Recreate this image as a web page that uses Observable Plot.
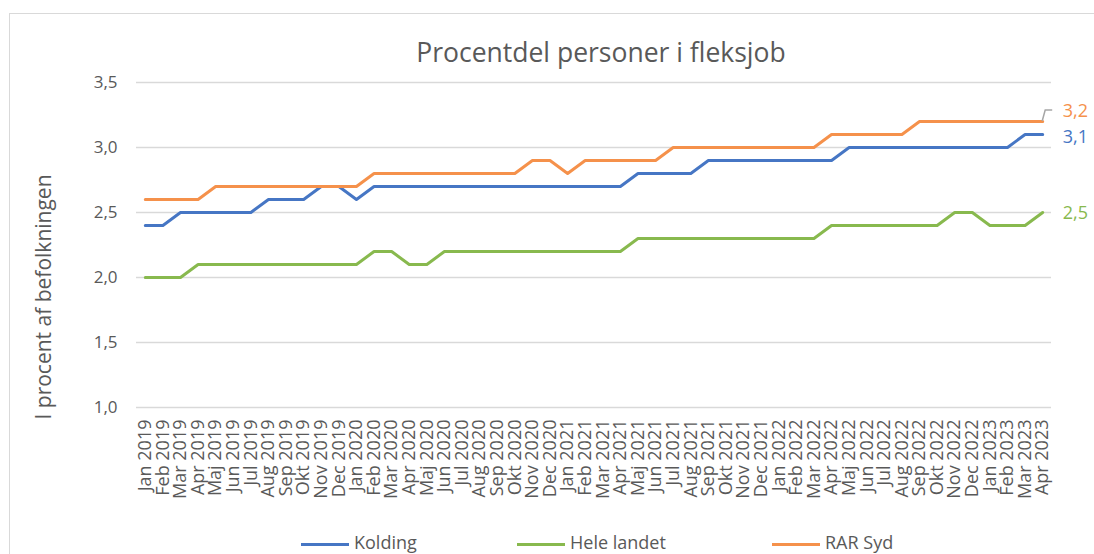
<!DOCTYPE html>
<html>
<head>
<meta charset="utf-8">
<script src="https://cdn.jsdelivr.net/npm/d3@7"></script>
<script src="https://cdn.jsdelivr.net/npm/@observablehq/plot@0.6"></script>
<style>
  html, body { margin: 0; padding: 0; background: #fff; }
  #wrap { position: relative; width: 1094px; height: 554px; overflow: hidden; font-family: "Open Sans", sans-serif; }
  #border { position: absolute; left: 9px; top: 13px; width: 1200px; height: 700px; border: 1.5px solid #d9d9d9; box-sizing: border-box; }
  #title { position: absolute; left: 0; width: 1202px; top: 35px; text-align: center; font-size: 26.5px; color: #595959; line-height: 34px; }
  #legend { position: absolute; top: 531px; left: 0; width: 1094px; height: 22px; font-size: 18px; color: #595959; }
  .item { position: absolute; top: 0; line-height: 22px; white-space: nowrap; }
  .item .sw { display: inline-block; width: 48px; height: 3px; vertical-align: middle; margin-right: 5px; }
  #chart { position: absolute; left: 0; top: 0; }
</style>
</head>
<body>
<div id="wrap">
  <div id="border"></div>
  <div id="chart"></div>
  <div id="title"></div>
  <div id="legend"></div>
</div>
<script>
const title = "Procentdel personer i fleksjob";
const yLabel = "I procent af befolkningen";

const months = [
  "Jan 2019","Feb 2019","Mar 2019","Apr 2019","Maj 2019","Jun 2019","Jul 2019","Aug 2019","Sep 2019","Okt 2019","Nov 2019","Dec 2019",
  "Jan 2020","Feb 2020","Mar 2020","Apr 2020","Maj 2020","Jun 2020","Jul 2020","Aug 2020","Sep 2020","Okt 2020","Nov 2020","Dec 2020",
  "Jan 2021","Feb 2021","Mar 2021","Apr 2021","Maj 2021","Jun 2021","Jul 2021","Aug 2021","Sep 2021","Okt 2021","Nov 2021","Dec 2021",
  "Jan 2022","Feb 2022","Mar 2022","Apr 2022","Maj 2022","Jun 2022","Jul 2022","Aug 2022","Sep 2022","Okt 2022","Nov 2022","Dec 2022",
  "Jan 2023","Feb 2023","Mar 2023","Apr 2023"
];

const kolding = [
  2.4,2.4,2.5,2.5,2.5,2.5,2.5,2.6,2.6,2.6,2.7,2.7,
  2.6,2.7,2.7,2.7,2.7,2.7,2.7,2.7,2.7,2.7,2.7,2.7,
  2.7,2.7,2.7,2.7,2.8,2.8,2.8,2.8,2.9,2.9,2.9,2.9,
  2.9,2.9,2.9,2.9,3.0,3.0,3.0,3.0,3.0,3.0,3.0,3.0,
  3.0,3.0,3.1,3.1
];
const heleLandet = [
  2.0,2.0,2.0,2.1,2.1,2.1,2.1,2.1,2.1,2.1,2.1,2.1,
  2.1,2.2,2.2,2.1,2.1,2.2,2.2,2.2,2.2,2.2,2.2,2.2,
  2.2,2.2,2.2,2.2,2.3,2.3,2.3,2.3,2.3,2.3,2.3,2.3,
  2.3,2.3,2.3,2.4,2.4,2.4,2.4,2.4,2.4,2.4,2.5,2.5,
  2.4,2.4,2.4,2.5
];
const rarSyd = [
  2.6,2.6,2.6,2.6,2.7,2.7,2.7,2.7,2.7,2.7,2.7,2.7,
  2.7,2.8,2.8,2.8,2.8,2.8,2.8,2.8,2.8,2.8,2.9,2.9,
  2.8,2.9,2.9,2.9,2.9,2.9,3.0,3.0,3.0,3.0,3.0,3.0,
  3.0,3.0,3.0,3.1,3.1,3.1,3.1,3.1,3.2,3.2,3.2,3.2,
  3.2,3.2,3.2,3.2
];

const seriesNames = ["Kolding", "Hele landet", "RAR Syd"];
const seriesColors = ["#4676C4", "#88B94E", "#F5914B"];
const yTicks = [1.0, 1.5, 2.0, 2.5, 3.0, 3.5];

const seriesValues = [kolding, heleLandet, rarSyd];
const rows = [];
seriesNames.forEach((s, i) => {
  months.forEach((m, j) => rows.push({series: s, month: m, value: seriesValues[i][j]}));
});
const last = seriesNames.map((s, i) => ({
  series: s, month: months[months.length - 1], value: seriesValues[i][months.length - 1]
}));
const labelDy = {"Kolding": 3, "Hele landet": 1, "RAR Syd": -10};
const fmt = d => d.toFixed(1).replace(".", ",");

const leader = (index, scales) => {
  const r = last.find(d => d.series === "RAR Syd");
  const x0 = scales.x(r.month), y0 = scales.y(r.value);
  const g = d3.create("svg:g");
  g.append("path")
    .attr("d", `M${x0},${y0} L${x0 + 3},${y0 - 11} L${x0 + 10},${y0 - 11}`)
    .attr("fill", "none").attr("stroke", "#a6a6a6").attr("stroke-width", 1.5);
  return g.node();
};

const endLabels = seriesNames.map(s =>
  Plot.text(last.filter(d => d.series === s), {
    x: "month", y: "value", text: d => fmt(d.value), fill: "series",
    textAnchor: "start", dx: 20, dy: labelDy[s], fontSize: 18
  })
);

const chart = Plot.plot({
  width: 1094,
  height: 554,
  marginLeft: 136,
  marginRight: 43,
  marginTop: 82,
  marginBottom: 147,
  style: {fontFamily: "Open Sans, sans-serif", color: "#595959", background: "transparent"},
  x: {type: "point", domain: months, padding: 0.5, label: null},
  y: {domain: [1, 3.5], label: null},
  color: {domain: seriesNames, range: seriesColors},
  marks: [
    Plot.ruleY(yTicks, {stroke: "#d9d9d9", strokeWidth: 1.5}),
    Plot.axisY({ticks: yTicks, tickFormat: fmt, tickSize: 0, tickPadding: 19, fontSize: 17, fill: "#595959", label: null}),
    Plot.axisX({tickRotate: -90, tickSize: 0, tickPadding: 12, fontSize: 18, fill: "#595959", label: null}),
    Plot.line(rows, {x: "month", y: "value", z: "series", stroke: "series", strokeWidth: 3, curve: "linear", strokeLinejoin: "round"}),
    leader,
    ...endLabels
  ]
});
document.getElementById("chart").appendChild(chart);

document.getElementById("title").textContent = title;

// y-axis title
d3.select(chart).append("text")
  .attr("transform", "translate(45,297) rotate(-90)")
  .attr("text-anchor", "middle")
  .attr("dominant-baseline", "middle")
  .attr("fill", "#595959")
  .attr("font-size", 21)
  .attr("font-family", "Open Sans, sans-serif")
  .text(yLabel);

const legendX = [301, 517, 772];
const legend = document.getElementById("legend");
seriesNames.forEach((s, i) => {
  const item = document.createElement("div");
  item.className = "item";
  item.style.left = legendX[i] + "px";
  item.innerHTML = `<span class="sw" style="background:${seriesColors[i]}"></span>${s}`;
  legend.appendChild(item);
});
</script>
</body>
</html>
